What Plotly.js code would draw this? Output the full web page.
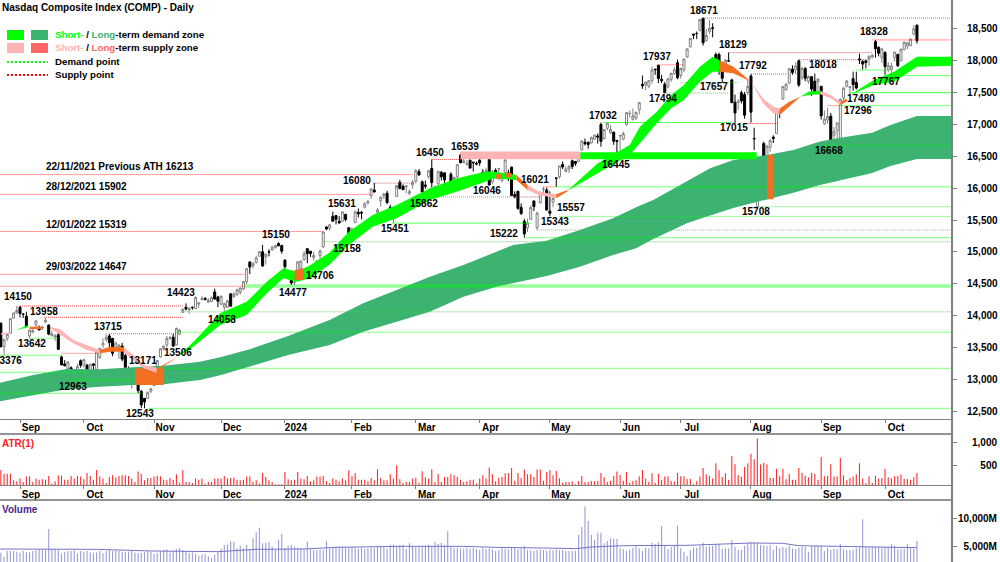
<!DOCTYPE html>
<html><head><meta charset="utf-8">
<script src="https://cdn.plot.ly/plotly-3.0.1.min.js"></script>
<style>html,body{margin:0;padding:0;background:#fff;overflow:hidden}#c{width:1000px;height:562px}</style>
</head><body><div id="c"></div>
<script>
// Daily bars: [open, high, low, close]
const aug2023=[[13880,13890,13500,13510],[13510,13640,13376,13620],[13640,13720,13600,13705],[13720,13960,13720,13950],[13960,14050,13950,14040],[14040,14150,14030,14080]];
const sep2023=[[14130,14150,13970,14031],[14020,14040,13960,14020],[13990,14060,13820,13825],[13680,13780,13640,13770],[13740,13810,13720,13761],[13850,13920,13800,13917],[13820,13840,13770,13773],[13810,13840,13770,13814],[13900,13958,13880,13926],[13850,13860,13690,13708],[13680,13760,13680,13710],[13660,13710,13600,13678],[13700,13730,13460,13469],[13350,13370,13220,13224],[13240,13300,13200,13212],[13170,13280,13150,13271],[13180,13200,13050,13063],[13110,13140,13000,13092],[13100,13240,13090,13201],[13290,13310,13180,13219]];
const oct2023=[[13220,13320,13180,13307],[13220,13240,13020,13059],[13090,13240,13070,13236],[13240,13250,13100,13220],[13150,13470,13120,13431],[13340,13490,13320,13484],[13540,13640,13490,13562],[13620,13715,13590,13659],[13680,13715,13500,13574],[13640,13650,13360,13407],[13480,13590,13470,13568],[13480,13550,13320,13534],[13520,13570,13280,13315],[13370,13400,13140,13186],[13170,13200,12980,12984],[12950,13110,12850,13018],[13090,13170,13040,13140],[13000,13010,12780,12821],[12810,12830,12550,12596],[12700,12700,12543,12643],[12700,12810,12690,12789],[12810,12860,12780,12851]];
const nov2023=[[12900,13070,12890,13061],[13200,13300,13160,13294],[13350,13490,13340,13478],[13480,13530,13450,13518],[13540,13680,13500,13639],[13640,13680,13620,13650],[13660,13710,13510,13521],[13540,13810,13530,13798],[13710,13790,13690,13768],[14050,14120,14040,14094],[14130,14190,14080,14103],[14090,14130,14030,14113],[14130,14140,14090,14125],[14110,14300,14100,14284],[14180,14200,14120,14199],[14250,14310,14240,14265],[14270,14290,14240,14250],[14210,14270,14200,14241],[14220,14300,14210,14281],[14370,14423,14250,14258],[14290,14310,14130,14226]];
const dec2023=[[14180,14310,14160,14305],[14130,14200,14059,14185],[14130,14250,14120,14229],[14340,14350,14140,14146],[14300,14360,14280,14339],[14330,14420,14310,14404],[14370,14440,14330,14432],[14420,14540,14400,14533],[14530,14750,14490,14734],[14840,14850,14650,14761],[14780,14840,14740,14814],[14830,14940,14820,14905],[14930,15010,14930,15003],[15000,15110,14770,14777],[14920,14970,14800,14964],[15000,15040,14930,14993],[15030,15090,15020,15074],[15070,15110,15050,15099],[15130,15150,15090,15095],[15100,15110,14970,15011]];
const jan2024=[[14870,14880,14700,14765],[14640,14690,14570,14592],[14570,14660,14480,14510],[14520,14640,14477,14524],[14560,14850,14550,14843],[14740,14860,14730,14857],[14880,15010,14860,14970],[15050,15050,14820,14970],[15010,15010,14920,14973],[14910,15000,14860,14944],[14810,14870,14760,14855],[14940,15040,14880,15011],[15080,15320,15060,15311],[15390,15400,15340,15360],[15370,15430,15330,15425],[15560,15631,15470,15482],[15570,15570,15430,15511],[15480,15560,15440,15455],[15480,15630,15470,15628],[15590,15590,15480,15509],[15380,15380,15158,15164]];
const feb2024=[[15250,15380,15200,15361],[15460,15650,15460,15629],[15620,15680,15540,15598],[15620,15640,15510,15609],[15700,15780,15680,15756],[15770,15810,15740,15794],[15880,15990,15830,15990],[15970,16080,15930,15942],[15620,15690,15550,15656],[15800,15870,15710,15859],[15880,15930,15830,15906],[15920,15960,15750,15775],[15700,15740,15560,15630],[15520,15590,15451,15580],[15870,16000,15860,16041],[16090,16130,15980,15997],[16030,16060,15970,15976],[16020,16040,15920,16035],[15920,15980,15890,15948],[16050,16130,15990,16092]];
const mar2024=[[16110,16300,16080,16275],[16260,16300,16200,16207],[16100,16120,15862,15940],[16050,16120,15990,16031],[16180,16290,16150,16273],[16310,16450,16010,16085],[16000,16040,15920,16019],[16070,16270,16000,16265],[16250,16270,16120,16178],[16240,16250,16000,16129],[16000,16010,15900,15973],[16220,16250,16100,16103],[16000,16180,15990,16167],[16180,16370,16130,16369],[16520,16539,16390,16401],[16400,16460,16390,16429],[16380,16440,16350,16384],[16440,16450,16310,16315],[16410,16410,16260,16400],[16390,16420,16360,16379]];
const apr2024=[[16440,16460,16350,16397],[16250,16300,16210,16240],[16200,16320,16200,16277],[16450,16450,16046,16049],[16100,16290,16070,16249],[16280,16310,16230,16253],[16300,16320,16120,16306],[16120,16200,16090,16170],[16240,16460,16220,16442],[16240,16290,16110,16175],[16330,16340,15880,15885],[15900,15950,15840,15865],[15950,15960,15660,15683],[15700,15760,15580,15601],[15480,15520,15222,15282],[15380,15520,15310,15451],[15510,15730,15500,15697],[15800,15800,15640,15713],[15380,15630,15343,15611],[15770,15950,15760,15928],[15980,16021,15890,15983],[15970,16010,15650,15658]];
const may2024=[[15640,15950,15557,15605],[15780,15860,15700,15840],[16160,16160,16020,16156],[16180,16350,16150,16349],[16370,16420,16300,16333],[16260,16340,16250,16302],[16300,16350,16240,16346],[16430,16450,16300,16340],[16420,16420,16350,16388],[16420,16520,16420,16511],[16600,16750,16590,16742],[16720,16780,16670,16698],[16720,16730,16620,16686],[16710,16810,16700,16795],[16770,16840,16760,16833],[16820,16860,16700,16802],[17000,17032,16650,16736],[16780,16930,16760,16921],[16940,17030,16910,17020],[16870,16990,16850,16921],[16880,16890,16680,16737],[16750,16750,16445,16735]];
const jun2024=[[16820,16830,16600,16828],[16770,16890,16750,16857],[17000,17190,16980,17187],[17170,17220,17110,17173],[17080,17250,17060,17133],[17100,17200,17070,17192],[17230,17350,17160,17343],[17630,17770,17560,17608],[17620,17670,17540,17667],[17600,17690,17570,17688],[17690,17910,17640,17857],[17870,17870,17780,17862],[17930,17937,17650,17722],[17710,17780,17650,17689],[17630,17670,17494,17497],[17590,17730,17570,17717],[17710,17810,17670,17805],[17800,17900,17780,17859],[17970,18020,17710,17733]];
const jul2024=[[17770,17890,17720,17879],[17860,18030,17820,18029],[18060,18190,18050,18188],[18220,18360,18210,18352],[18420,18420,18340,18403],[18430,18460,18340,18429],[18480,18660,18460,18647],[18670,18671,18240,18283],[18320,18500,18300,18398],[18460,18640,18420,18509],[18520,18590,18370,18509],[18100,18129,17950,17997],[18100,18130,17780,17871],[17850,17930,17657,17727],[17950,18030,17840,18007],[18000,18130,17990,17997],[17700,17720,17340,17342],[17350,17470,17015,17181],[17350,17400,17230,17358],[17500,17530,17330,17370],[17470,17510,17090,17147],[17500,17700,17460,17599]];
const aug2024=[[17760,17792,17030,17194],[16780,16950,16600,16776],[15708,16300,15708,16200],[16200,16500,16200,16366],[16700,16730,16180,16195],[16300,16680,16250,16660],[16640,16770,16570,16745],[16800,16830,16710,16780],[16860,17190,16850,17187],[17200,17210,17100,17192],[17400,17600,17390,17594],[17550,17650,17530,17631],[17650,17880,17640,17877],[17870,17930,17780,17816],[17860,17980,17790,17919],[18000,18018,17590,17619],[17740,17910,17700,17878],[17880,17900,17680,17725],[17680,17770,17640,17754],[17750,17760,17450,17556],[17680,17800,17490,17516],[17670,17720,17470,17714]];
const sep2024=[[17600,17600,17080,17136],[17010,17220,16990,17085],[17070,17260,17010,17127],[17130,17180,16668,16690],[16830,16960,16750,16885],[16900,17030,16730,17025],[16700,17410,16700,17396],[17420,17590,17360,17569],[17600,17700,17580,17683],[17580,17600,17480,17593],[17720,17830,17530,17628],[17660,17830,17550,17573],[18030,18110,17950,18014],[17990,18010,17860,17948],[18000,18010,17880,17974],[18030,18080,17920,18074],[18060,18110,18040,18082],[18300,18328,18050,18190],[18210,18230,18070,18119],[18050,18190,17970,18189]];
const oct2024=[[18130,18150,17780,17910],[17860,17980,17820,17925],[17860,17970,17767,17918],[18050,18140,17990,18137],[18100,18110,17900,17923],[18000,18190,18000,18183],[18180,18300,18160,18291],[18230,18300,18180,18282],[18240,18350,18230,18342],[18420,18560,18400,18502],[18560,18570,18270,18315]];

// ATR(1) per trading day
const atrValues=[408,329,329,329,186,165,222,150,265,272,150,222,200,208,200,279,115,165,293,286,200,200,279,222,279,265,208,343,279,200,408,272,222,129,258,293,243,279,293,293,279,222,150,372,322,186,236,236,265,286,272,200,186,236,200,315,136,400,150,150,129,222,200,222,115,150,150,222,222,222,279,222,236,243,200,186,200,265,265,150,186,115,343,258,186,150,100,100,100,365,208,186,200,365,222,208,279,165,186,265,265,279,172,129,222,200,165,222,186,400,279,343,200,200,200,165,236,186,422,236,186,186,315,222,507,208,129,150,150,222,243,136,379,251,222,422,150,329,150,258,258,315,293,258,200,150,165,200,200,115,222,293,222,458,315,165,243,
258,336,343,450,179,343,236,415,315,315,258,415,415,179,365,408,293,386,229,136,150,150,165,100,172,279,150,150,172,165,172,343,250,150,179,279,372,300,179,365,136,172,186,272,408,222,150,336,129,329,200,265,272,172,165,343,272,272,215,215,100,165,265,450,315,279,222,550,400,258,336,200,707,529,300,265,472,550,757,636,1079,522,557,529,236,236,436,272,436,208,322,200,200,450,350,286,250,350,322,200,686,272,286,529,265,265,665,293,186,236,265,308,550,222,115,272,129,286,222,236,436,250,229,272,279,308,215,215,200,250,343];

// Volume per trading day, millions
const volumeValues=[3940,3240,4240,4240,4240,4120,3940,4240,4000,4000,4240,4410,4530,4410,4590,8116,4590,4530,4410,3765,4000,4240,4240,4350,3820,4240,
4120,4240,4000,3940,4000,4240,3820,4240,4410,4240,4350,4240,4120,4000,4120,4240,3940,3820,3900,4000,4240,4120,
3700,3820,4240,4410,4530,3940,4240,4590,4750,4410,4240,3880,4000,3700,3400,3600,3700,3300,3000,3600,4100,
4650,5290,5410,5940,5880,4700,5180,4700,5290,4400,6470,7530,8350,5590,5700,5880,5000,4400,6180,7230,
4700,5180,5290,5000,4820,4700,4650,5880,4530,4410,4350,4500,4410,6000,4650,4820,5060,5060,5000,4880,4820,
5000,4820,4650,4820,4590,4700,4820,4700,5000,5180,4880,4650,5300,5350,5000,5280,5350,4650,5590,5060,
4880,5060,4880,5120,5350,5000,5800,5450,5650,5300,7760,5000,4820,4800,4700,4650,4820,4650,4700,4590,
4410,4820,4590,4700,4530,4240,4350,4700,4650,4530,4820,4880,4530,4700,5180,4440,4350,4240,4440,4500,4410,4240,
4470,4350,4530,4350,4410,4240,4240,4240,4300,7060,8470,12115,9530,7060,6180,7470,7470,5590,6000,6470,6410,6350,
4700,4530,4240,4410,4820,5060,4700,4240,4820,4700,5700,5530,5760,8700,5180,4590,5000,5120,8700,
4700,4120,3350,4410,4820,4820,5060,5700,5000,5120,5180,5470,5410,4590,4700,4700,6180,5000,4410,4410,5180,5700,
5820,5760,5650,5290,5180,5180,5290,4410,5120,4700,4940,4820,5180,4700,4590,4820,4940,5000,4120,5000,5120,5180,
5180,4240,4700,4410,4650,4590,5410,4530,4410,4410,4410,4700,4880,9820,4880,4880,5000,4940,4880,4700,
4940,5000,5410,5180,4530,4590,4650,5470,4820,4650,5990];

// Volume average line
const volAvgX=[-1,15,30,47,60,68,80,95,105,125,145,155,170,180,185,195,215,235,245,250,262,275,287];
const volAvgY=[4590,4590,4530,4240,4120,4120,4530,4590,4880,5060,5060,4880,4760,4650,4940,5176,5235,5647,5590,5170,5060,4940,4820];

// Month ticks (trading-day number)
const monthTicks=[6,26,48,69,89,110,130,150,172,194,213,235,257,277];
const monthLabels=['Sep','Oct','Nov','Dec','2024','Feb','Mar','Apr','May','Jun','Jul','Aug','Sep','Oct'];

// Price axis ticks
const priceTicks=[18500,18000,17500,17000,16500,16000,15500,15000,14500,14000,13500,13000,12500];
const priceTickText=['18,500','18,000','17,500','17,000','16,500','16,000','15,500','15,000','14,500','14,000','13,500','13,000','12,500'];

// Long-term demand zone
const longX=[-1,10.2,20.6,31,41.5,51,62.4,69,78,90,103,113.5,124,134.4,144.9,155.3,160.5,171,181.4,191.8,199,204.4,214.9,222.2,229.5,240,248.3,256.6,263,273,278.7,287,298];
const longUp=[12935,13066,13160,13155,13186,13210,13275,13350,13470,13680,13929,14191,14400,14610,14793,15003,15107,15175,15343,15526,15700,15815,16103,16312,16443,16521,16600,16731,16790,16870,16992,17134,17134];
const longLo=[12647,12752,12841,12883,12909,12920,12988,13065,13200,13380,13537,13746,13903,14060,14296,14453,14505,14620,14766,14950,15056,15200,15448,15570,15690,15820,15930,16050,16128,16238,16350,16458,16458];

// Short-term demand zones
const greenAx=[4.7,8.6],greenAu=[13773,13850],greenAl=[13773,13815];
const greenBx=[55,59,62.4,68.7,77,83.3,88.5,92.7,97,103,109,116.5,124,134.4,143,152,154,161.5];
const greenBu=[13354,13520,13694,14034,14217,14531,14741,14689,14793,14990,15317,15579,15736,15998,16155,16260,16260,16207];
const greenBl=[13354,13460,13589,13851,14008,14348,14584,14531,14584,14800,15108,15396,15527,15815,15946,16103,16150,16129];
const greenCx=[177.5,187,197,200.2,205.5,210,214,219,223,225];
const greenCu=[15960,16390,16678,16966,17201,17463,17620,17908,18065,18013];
const greenCl=[15960,16233,16521,16704,17018,17254,17384,17672,17829,17829];
const greenRectX=[181.5,236.8],greenRectU=[16563,16563],greenRectL=[16453,16453];
const greenDx=[250.5,253,256.7],greenDu=[17437,17515,17531],greenDl=[17437,17463,17473];
const greenEx=[266,273.5,279.8,287,298],greenEu=[17463,17699,17830,18065,18065],greenEl=[17463,17620,17672,17908,17924];

// Short-term supply zones
const pinkAx=[0,3],pinkAu=[13720,13735],pinkAl=[13700,13715];
const pinkBx=[15.4,18.5,22.7,26.9,31],pinkBu=[13825,13783,13616,13537,13459],pinkBl=[13799,13700,13563,13459,13406];
const pinkCx=[38.4,41.5,44.7,48.8],pinkCu=[13500,13380,13223,13181],pinkCl=[13432,13302,13171,13103];
const pinkRectX=[144,181.5],pinkRectU=[16570,16570],pinkRectL=[16455,16455];
const pinkEx=[165,168.5,171.5,174],pinkEu=[16050,15946,15920,15904],pinkEl=[15972,15893,15867,15841];
const pinkGx=[235,238.8,242,244],pinkGu=[17672,17410,17280,17253],pinkGl=[17672,17332,17175,17150];
const pinkHx=[256.7,260,263],pinkHu=[17531,17463,17358],pinkHl=[17473,17411,17306];

// Overlap (orange) zones
const orangeAx=[9,13],orangeAu=[13825,13825],orangeAl=[13788,13788];
const orangeBx=[31,34.2,38.4],orangeBu=[13459,13511,13500],orangeBl=[13406,13432,13432];
const orangeCx=[42,51],orangeCu=[13171,13171],orangeCl=[12909,12909];
const orangeDx=[49,55.6],orangeDu=[13171,13354],orangeDl=[13140,13354];
const orangeEx=[92,95],orangeEu=[14715,14740],orangeEl=[14558,14558];
const orangeFx=[155,157],orangeFu=[16220,16220],orangeFl=[16150,16150];
const orangeGx=[158,160],orangeGu=[16240,16240],orangeGl=[16170,16170];
const orangeHx=[161.5,165],orangeHu=[16207,16050],orangeHl=[16129,15972];
const orangeIx=[174,177.5],orangeIu=[15904,15972],orangeIl=[15841,15946];
const orangeJx=[225,229.5,235],orangeJu=[18013,17908,17672],orangeJl=[17829,17803,17672];
const orangeKx=[240,242],orangeKu=[16521,16521],orangeKl=[15825,15825];
const orangeLx=[244,247,250.5],orangeLu=[17253,17358,17437],orangeLl=[17150,17280,17437];
const orangeMx=[263,265],orangeMu=[17358,17410],orangeMl=[17306,17360];

// Wide demand point
const wideDemandX=[76.5,298],wideDemandU=[14493,14493],wideDemandL=[14437,14437];

// Supply (red) and demand (green) points: level, first day, last day
const supplyLevel=[16213,15902,15319,14647,14460,14150,13972,13715,13406,18671,18328,18129,18018,17937,17792,17296,17015,16565,16450,16080,16021,15862];
const supplyFrom=[-1,-1,-1,-1,-1,6,13.5,34.5,19,220,273,228,250,206,235,259,234,144,135,116.5,170,158.5];
const supplyTo=[129,116,101,76.5,76.5,57,57,55,30,298,298,273,272,214,246,263,243,181.5,144,129,174,169];
const demandLevel=[14058,13738,13642,13376,13171,13108,12990,12778,12543,15451,15343,15557,15222,15158,16021,15862,16668,17767,17500,17296,15708,17032,17494,17657,17855];
const demandFrom=[57,55,9,-1,51,-1,21,-1,46,122.5,168,175,164,101,174,131,258,278,266,263,237,189,208,213,268];
const demandTo=[298,298,18,19,298,28,41,44,298,166,298,298,298,298,298,158.5,298,298,298,298,298,229,228,231,278];

// Pivot labels
const pivotText=['14150','13958','13642','13376','12963','13715','13171','13506','12543','14423','14058','15150','14477','14706','15631','15158','16080','15451','15862','16450','16539','16046','15222','16021','15343','15557','16445','17032','17494','17937','18671','18129','17657','17792','17015','15708','18018','17480','17296','16668','17767','18328'];
const pivotDay=[5.4,13.5,9.8,2.2,22.6,33.6,44.5,55.5,43.6,56.4,69.3,86.2,91.5,100,106.9,108.5,111.6,123.5,132.6,134.4,145.4,152.3,157.6,167.3,173.6,178.6,192.7,188.6,207.4,205.6,220.3,229.4,223.4,235.6,229.7,236.6,257.6,269.5,268.5,259.5,277.3,273.5];
const pivotPrice=[14291,14071,13568,13301,12893,13835,13301,13427,12469,14354,13945,15280,14354,14621,15767,15060,16113,15359,15767,16568,16662,15971,15296,16144,15469,15689,16364,17149,17416,18060,18783,18249,17589,17919,16945,15626,17950,17401,17212,16584,17683,18453];

// Historical notes
const noteText=['22/11/2021 Previous ATH 16213','28/12/2021 15902','12/01/2022 15319','29/03/2022 14647'];
const notePrice=[16346,16026,15426,14766];

const bars=[].concat(aug2023,sep2023,oct2023,nov2023,dec2023,jan2024,feb2024,mar2024,apr2024,may2024,jun2024,jul2024,aug2024,sep2024,oct2024);
const days=bars.map((b,i)=>i);
const font='"Liberation Sans", Arial, sans-serif';

function band(x,u,l,color){return {type:'scatter',mode:'lines',x:x.concat(x.slice().reverse()),y:u.concat(l.slice().reverse()),fill:'toself',fillcolor:color,line:{width:0,color:color},hoverinfo:'skip',showlegend:false};}
function levels(lv,a,b,color){const x=[],y=[];lv.forEach((v,k)=>{x.push(a[k],b[k],null);y.push(v,v,null);});return {type:'scatter',mode:'lines',x,y,line:{color,width:1,dash:'1px,1px'},hoverinfo:'skip',showlegend:false};}

const GREEN='#00FF00',PINK='#FFB3B3',ORANGE='#F46F22',LONG='#3CB371';
const traces=[
 band(longX,longUp,longLo,LONG),
 band(wideDemandX,wideDemandU,wideDemandL,'rgba(0,255,0,0.4)'),
 levels(supplyLevel,supplyFrom,supplyTo,'rgba(255,0,0,0.7)'),
 levels(demandLevel,demandFrom,demandTo,'rgba(0,255,0,0.85)'),
 band(orangeCx,orangeCu,orangeCl,ORANGE),band(orangeDx,orangeDu,orangeDl,ORANGE),band(orangeKx,orangeKu,orangeKl,ORANGE),
 band(greenRectX,greenRectU,greenRectL,GREEN),band(pinkRectX,pinkRectU,pinkRectL,PINK),
 band(greenAx,greenAu,greenAl,GREEN),band(greenBx,greenBu,greenBl,GREEN),band(greenCx,greenCu,greenCl,GREEN),band(greenDx,greenDu,greenDl,GREEN),band(greenEx,greenEu,greenEl,GREEN),
 band(pinkAx,pinkAu,pinkAl,PINK),band(pinkBx,pinkBu,pinkBl,PINK),band(pinkCx,pinkCu,pinkCl,PINK),band(pinkEx,pinkEu,pinkEl,PINK),band(pinkGx,pinkGu,pinkGl,PINK),band(pinkHx,pinkHu,pinkHl,PINK),
 band(orangeAx,orangeAu,orangeAl,ORANGE),band(orangeBx,orangeBu,orangeBl,ORANGE),band(orangeEx,orangeEu,orangeEl,ORANGE),band(orangeFx,orangeFu,orangeFl,ORANGE),band(orangeGx,orangeGu,orangeGl,ORANGE),band(orangeHx,orangeHu,orangeHl,ORANGE),band(orangeIx,orangeIu,orangeIl,ORANGE),band(orangeJx,orangeJu,orangeJl,ORANGE),band(orangeLx,orangeLu,orangeLl,ORANGE),band(orangeMx,orangeMu,orangeMl,ORANGE),
 {type:'candlestick',x:days,open:bars.map(b=>b[0]),high:bars.map(b=>b[1]),low:bars.map(b=>b[2]),close:bars.map(b=>b[3]),
  increasing:{line:{color:'#808080',width:1},fillcolor:'#FFFFFF'},decreasing:{line:{color:'#000000',width:1},fillcolor:'#000000'},whiskerwidth:0,hoverinfo:'skip',showlegend:false},
 {type:'bar',x:days,y:atrValues,xaxis:'x2',yaxis:'y2',width:0.34,marker:{color:'#FF2A2A',line:{width:0}},hoverinfo:'skip',showlegend:false},
 {type:'bar',x:days,y:volumeValues,xaxis:'x3',yaxis:'y3',width:0.34,marker:{color:'#9A9AD6',line:{width:0}},hoverinfo:'skip',showlegend:false},
 {type:'scatter',mode:'lines',x:volAvgX,y:volAvgY,xaxis:'x3',yaxis:'y3',line:{color:'#7474C8',width:1},hoverinfo:'skip',showlegend:false}
];

const W=952,H=562;
const xRange=[-0.266,297.98];
const txtFont={family:font,size:10,color:'#000',weight:'bold'};
function xAxisCfg(anchor,labels,standoff){return {domain:[0,1],range:xRange,anchor,type:'linear',tickmode:'array',tickvals:monthTicks,ticktext:labels?monthLabels:monthTicks.map(()=>''),ticks:'outside',ticklen:3,tickcolor:'#808080',tickwidth:1,showgrid:false,zeroline:false,showline:true,linecolor:'#808080',linewidth:1,tickfont:txtFont,ticklabelshift:11,ticklabelstandoff:standoff,fixedrange:true,rangeslider:{visible:false}};}
function yAxisCfg(dom,range,vals,text,anchor,standoff){return {domain:dom,range,anchor,side:'right',type:'linear',tickmode:'array',tickvals:vals,ticktext:text,ticks:'outside',ticklen:4,tickcolor:'#808080',showgrid:false,zeroline:false,showline:false,tickfont:txtFont,ticklabelstandoff:standoff,fixedrange:true};}

const px=v=>v/W, py=v=>1-v/H;
function rect(x0,y0,x1,y1,c){return {type:'rect',xref:'paper',yref:'paper',x0:px(x0),x1:px(x1),y0:py(y1),y1:py(y0),fillcolor:c,line:{width:0},layer:'above'};}
function hline(x0,x1,y,c,w,dash){return {type:'line',xref:'paper',yref:'paper',x0:px(x0),x1:px(x1),y0:py(y),y1:py(y),line:{color:c,width:w,dash:dash||'solid'},layer:'above'};}
const shapes=[
 rect(7,30,24,40,GREEN),rect(31,30,48,40,LONG),rect(7,43,24,53,PINK),rect(31,43,48,53,'#FF6666'),
 hline(7,48,62,'#00FF00',2,'2px,2px'),hline(7,48,75,'#FF0000',2,'2px,2px'),
 hline(0,952,434,'#707070',1.5),hline(0,952,500,'#707070',1.5),
 {type:'line',xref:'paper',yref:'paper',x0:1,x1:1,y0:0,y1:1,line:{color:'#808080',width:2},layer:'above'}
];
function note(text,xp,yp,color,size){return {xref:'paper',yref:'paper',x:px(xp),y:py(yp),text,showarrow:false,xanchor:'left',yanchor:'middle',align:'left',font:{family:font,size:size||10,color:color||'#000',weight:'bold'}};}
const annotations=[
 note('Nasdaq Composite Index (COMP) - Daily',0,7,'#000'),
 note('<span style="color:#00FF00">Short-</span> / <span style="color:#3CB371">Long</span>-term demand zone',53,35,'#000',9.7),
 note('<span style="color:#FFB3B3">Short-</span> / <span style="color:#FF6666">Long</span>-term supply zone',53,48,'#000',9.7),
 note('Demand point',53,62,'#000',9.7),note('Supply point',53,75,'#000',9.7),
 note('ATR(1)',0,443,'#FF2020'),note('Volume',0,509,'#4B1E8C')
];
pivotText.forEach((t,k)=>annotations.push({x:pivotDay[k],y:pivotPrice[k],xref:'x',yref:'y',text:t,showarrow:false,xanchor:'center',yanchor:'middle',font:txtFont}));
noteText.forEach((t,k)=>annotations.push({x:13.6,y:notePrice[k],xref:'x',yref:'y',text:t,showarrow:false,xanchor:'left',yanchor:'middle',font:txtFont}));

const layout={width:1000,height:562,margin:{l:0,r:48,t:0,b:0,pad:0},paper_bgcolor:'#fff',plot_bgcolor:'#fff',showlegend:false,hovermode:false,dragmode:false,boxgap:0.1,
 xaxis:xAxisCfg('y',true,-4),xaxis2:xAxisCfg('y2',true,-3),xaxis3:Object.assign(xAxisCfg('y3',false,0),{showline:false,ticks:''}),
 yaxis:yAxisCfg([(H-419)/H,1],[12375,18955],priceTicks,priceTickText,'x',8),
 yaxis2:yAxisCfg([(H-485.3)/H,(H-434)/H],[79,1178],[1000,500],['1,000','\u2007\u2008500'],'x2',13),
 yaxis3:yAxisCfg([0,62/H],[2297,13230],[10000,5000],['10,000M','\u20075,000M'],'x3',-1),
 shapes,annotations};
Plotly.newPlot('c',traces,layout,{staticPlot:true,displayModeBar:false});
</script></body></html>
